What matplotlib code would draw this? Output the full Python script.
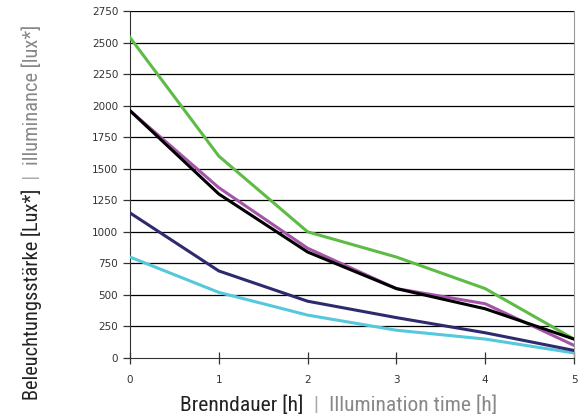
import matplotlib
matplotlib.use("Agg")
import matplotlib.pyplot as plt
from matplotlib import font_manager

hours = [0, 1, 2, 3, 4, 5]
green = [2540, 1600, 1000, 800, 550, 150]
purple = [1960, 1350, 870, 550, 430, 100]
black = [1960, 1300, 840, 550, 390, 150]
navy = [1150, 690, 450, 320, 200, 60]
cyan = [800, 520, 340, 220, 150, 40]
yticks = list(range(0, 2751, 250))

names = set(f.name for f in font_manager.fontManager.ttflist)
narrow = 'DejaVu Sans'
for cand in ['Liberation Sans Narrow', 'Roboto Condensed', 'Open Sans Condensed', 'Roboto', 'Liberation Sans']:
    if cand in names:
        narrow = cand
        break

fig = plt.figure(figsize=(5.79, 4.2), dpi=100)
ax = fig.add_axes([130/579, 1-358/420, 444/579, 347/420])

for ys in yticks[1:]:
    ax.axhline(ys, color='black', lw=0.9, zorder=1)

series = [(green, '#5dbb46'), (cyan, '#55c8dc'), (navy, '#2e2a6e'),
          (purple, '#a455a8'), (black, '#000000')]
for vals, c in series:
    ax.plot(hours, vals, color=c, lw=2.2, zorder=3, solid_joinstyle='round')

ax.set_xlim(0, 5)
ax.set_ylim(0, 2750)
ax.set_xticks(hours)
ax.set_yticks(yticks)
ax.tick_params(axis='both', labelsize=7.5, colors='#333333', length=5, width=0.9)
ax.tick_params(axis='x', direction='inout', length=8, pad=8)
ax.spines['top'].set_visible(False)
ax.spines['right'].set_color('#999999')
ax.spines['left'].set_color('#333333')
ax.spines['bottom'].set_color('#333333')

fig.canvas.draw()
r = fig.canvas.get_renderer()

def fit_parts(parts, target, rotation):
    size = 16
    for _ in range(3):
        ts = []
        total = 0
        for s, c in parts:
            t = fig.text(0, 0, s, color=c, fontsize=size, family=narrow, va='baseline',
                         ha='left', rotation=rotation, rotation_mode='anchor')
            bb = t.get_window_extent(r)
            d = bb.height if rotation else bb.width
            ts.append((t, d))
            total += d
        if abs(total - target) < 3:
            return ts, total
        for t, _ in ts:
            t.remove()
        size = size * target / total
    return ts, total

ts, total = fit_parts([("Brenndauer [h]", '#222222'), ("  |  ", '#aaaaaa'),
                       ("Illumination time [h]", '#888888')], 317, 0)
x0 = (180 + 497) / 2 - total / 2
for t, w in ts:
    t.set_position((x0 / 579, 1 - 411 / 420))
    x0 += w

ts, total = fit_parts([("Beleuchtungsstärke [Lux*]", '#222222'), ("  |  ", '#aaaaaa'),
                       ("illuminance [lux*]", '#888888')], 375, 90)
y0 = 420 - (25 + 400) / 2 - total / 2
for t, h in ts:
    t.set_position((38 / 579, y0 / 420))
    y0 += h

fig.savefig("out.png", dpi=100)
